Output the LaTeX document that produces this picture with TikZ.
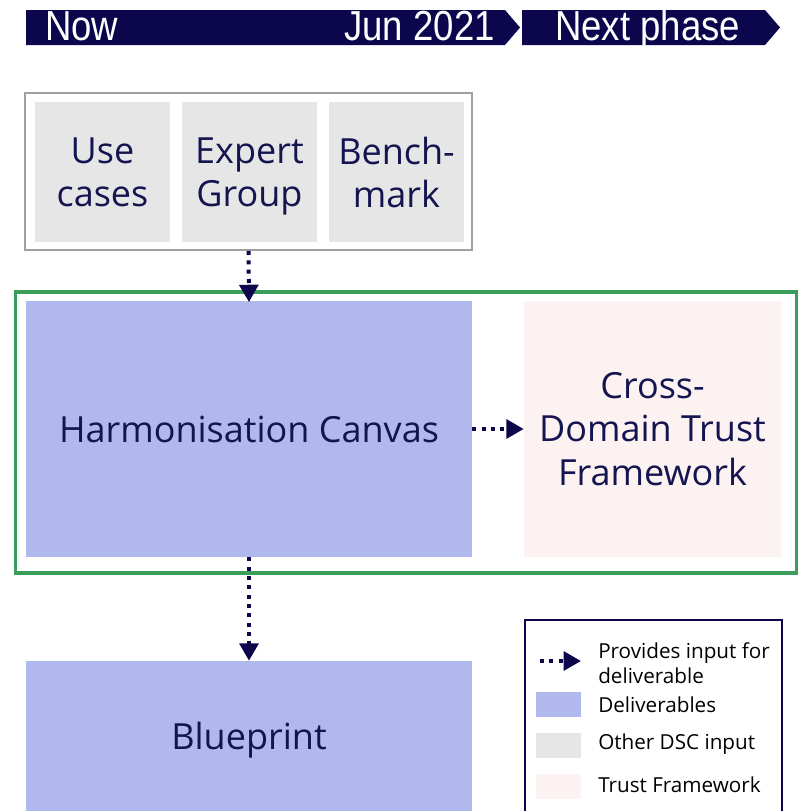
\documentclass[tikz,border=0pt]{standalone}
\usepackage{fontspec}
\setmainfont{Open Sans}
\newfontfamily\bannerfont[FakeStretch=0.87]{Liberation Sans}
\usetikzlibrary{arrows.meta}
\definecolor{navy}{RGB}{12,6,76}
\definecolor{textnavy}{RGB}{20,20,80}
\definecolor{lav}{RGB}{176,184,238}
\definecolor{lgray}{RGB}{230,230,230}
\definecolor{pinkish}{RGB}{253,242,242}
\definecolor{frame}{RGB}{160,160,160}
\definecolor{grn}{RGB}{58,158,90}
\begin{document}
\begin{tikzpicture}[x=0.75pt,y=-0.75pt,
  banner/.style={fill=navy,draw=none},
  btext/.style={text=white,font=\bannerfont\fontsize{31.5}{32}\selectfont,inner sep=0pt},
  bigtext/.style={text=textnavy,font=\fontsize{27}{32.5}\selectfont,align=center},
  inbox/.style={fill=lgray,draw=none,minimum width=101.25pt,minimum height=105pt,inner sep=0pt,bigtext,text depth=-3pt},
  flow/.style={draw=navy,line width=3pt,dash pattern=on 3pt off 4pt,-{Triangle[length=13pt,width=14pt]},shorten >=0pt},
  leg/.style={anchor=west,font=\fontsize{15.5}{19}\selectfont,inner sep=0pt,align=left},
  legsq/.style={minimum width=33.75pt,minimum height=18.75pt,inner sep=0pt,draw=none}]
\useasboundingbox (0,0) rectangle (799,811);
% banners
\fill[banner] (26,10) -- (505,10) -- (520,27.5) -- (505,45) -- (26,45) -- cycle;
\fill[banner] (522,10) -- (765,10) -- (780,27.5) -- (765,45) -- (522,45) -- cycle;
\node[btext,anchor=base west] (now) at (45,40.5) {Now};
\node[btext,anchor=base east] (jun) at (495,40.5) {Jun 2021};
\node[btext,anchor=base west] (next) at (555,40.5) {Next phase};
% input group
\node[draw=frame,line width=1.5pt,fill=white,minimum width=335.25pt,minimum height=117.75pt,inner sep=0pt] (grp) at (248.5,171.5) {};
\node[inbox] (use) at (102.5,172) {Use\\cases};
\node[inbox] (exp) at (249.5,172) {Expert\\Group};
\node[inbox] (bench) at (396.5,172) {Bench-\\mark};
% green frame
\node[draw=grn,line width=2.5pt,minimum width=585.75pt,minimum height=210.75pt,inner sep=0pt] (grnf) at (406,432.5) {};
\node[fill=lav,minimum width=334.5pt,minimum height=192pt,inner sep=0pt,bigtext] (harm) at (249,429) {Harmonisation Canvas};
\node[fill=pinkish,minimum width=192.75pt,minimum height=192pt,inner sep=0pt,bigtext] (cdtf) at (652.5,429) {Cross-\\Domain Trust\\Framework};
\node[fill=lav,minimum width=334.5pt,minimum height=112.5pt,inner sep=0pt,bigtext,text depth=-3pt] (blue) at (249,736) {Blueprint};
% arrows
\draw[flow] (grp.south) -- ([yshift=-1pt]harm.north);
\draw[flow] (harm.east) -- (cdtf.west);
\draw[flow] (harm.south) -- (blue.north);
% legend
\node[draw=navy,line width=1.5pt,fill=white,minimum width=192.75pt,minimum height=150pt,inner sep=0pt,anchor=north west] (legbox) at (524,619) {};
\coordinate (la) at (540,661);
\coordinate (lb) at (581,661);
\draw[flow] (la) -- (lb);
\node[leg] (l1) at (598,663) {Provides input for\\deliverable};
\node[legsq,fill=lav,anchor=west] (s2) at (536,704) {};
\node[leg] (l2) at (598,705) {Deliverables};
\node[legsq,fill=lgray,anchor=west] (s3) at (536,745) {};
\node[leg] (l3) at (598,744) {Other DSC input};
\node[legsq,fill=pinkish,anchor=west] (s4) at (536,786) {};
\node[leg] (l4) at (598,785) {Trust Framework};
\end{tikzpicture}
\end{document}
